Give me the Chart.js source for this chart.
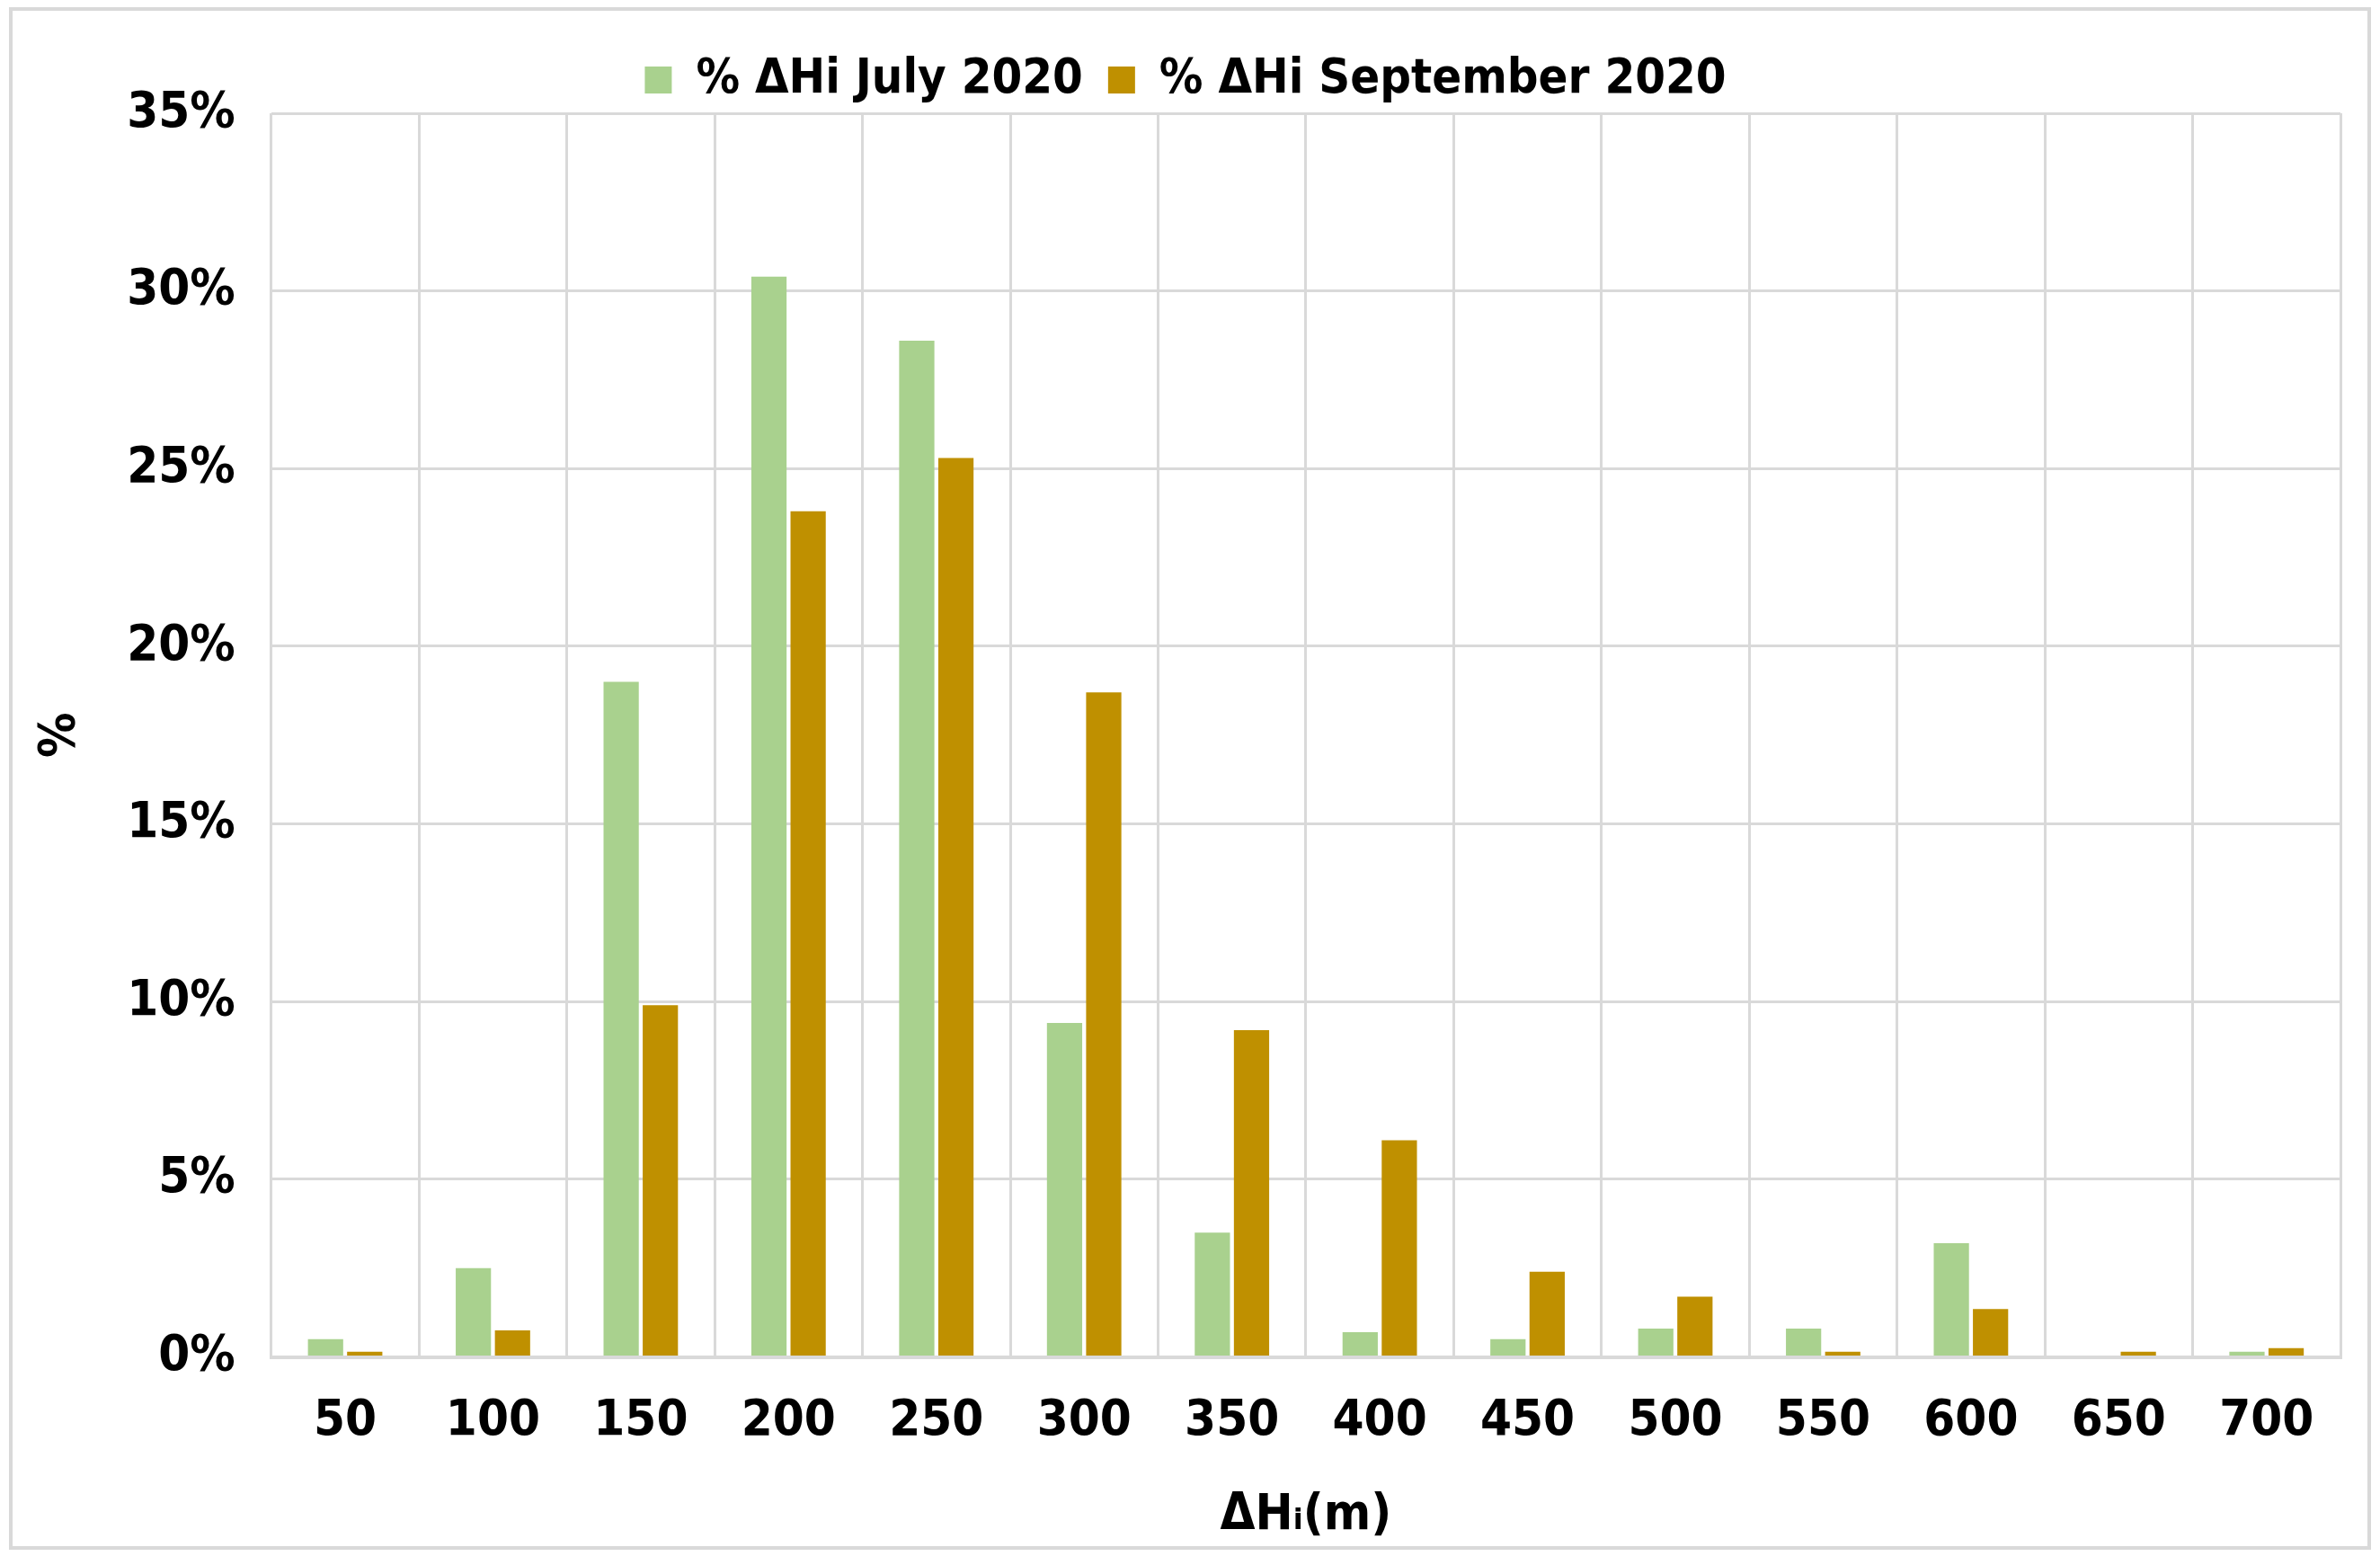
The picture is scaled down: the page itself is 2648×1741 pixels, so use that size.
<!DOCTYPE html>
<html>
<head>
<script src="https://cdn.jsdelivr.net/npm/chart.js@4/dist/chart.umd.min.js"></script>
<style>
body { margin: 0; background: #fff; }
#wrap { position: absolute; left: 10px; top: 8px; width: 2628px; height: 1716px; border: 4px solid #d9d9d9; box-sizing: border-box; }
</style>
</head>
<body>
<div id="wrap"><canvas id="grafico" width="2620" height="1708"></canvas></div>
<script>
var categorias = ["50", "100", "150", "200", "250", "300", "350", "400", "450", "500", "550", "600", "650", "700"];
var julio = [0.5, 2.5, 19.0, 30.4, 28.6, 9.4, 3.5, 0.7, 0.5, 0.8, 0.8, 3.2, 0, 0.15];
var septiembre = [0.15, 0.75, 9.9, 23.8, 25.3, 18.7, 9.2, 6.1, 2.4, 1.7, 0.15, 1.35, 0.15, 0.25];
var ticksY = [0, 5, 10, 15, 20, 25, 30, 35];

var fuente = "'DejaVu Sans Condensed', 'DejaVu Sans', sans-serif";

var grafico = new Chart(document.querySelector("#grafico"), {
    type: "bar",
    data: {
        labels: categorias,
        datasets: [{
            label: "% \u0394Hi July 2020",
            data: julio,
            backgroundColor: "#a9d18e",
            barPercentage: 0.9,
            categoryPercentage: 0.53
        }, {
            label: "% \u0394Hi September 2020",
            data: septiembre,
            backgroundColor: "#bf9000",
            barPercentage: 0.9,
            categoryPercentage: 0.53
        }]
    },
    options: {
        responsive: false,
        animation: false,
        devicePixelRatio: 1,
        layout: { padding: { left: 20, right: 30, top: 22, bottom: 0 } },
        plugins: {
            legend: {
                position: "top",
                labels: {
                    font: { family: fuente, size: 54, weight: "bold" },
                    color: "#000",
                    boxWidth: 30, boxHeight: 30, padding: 28
                }
            },
            tooltip: { enabled: false }
        },
        scales: {
            x: {
                grid: { color: "#d9d9d9", lineWidth: 3, offset: true, drawTicks: false },
                border: { color: "#d9d9d9", width: 4 },
                ticks: { font: { family: fuente, size: 56, weight: "bold" }, color: "#000", padding: 38 },
                title: { display: true, text: "\u0394H\u1d62(m)", font: { family: fuente, size: 56, weight: "bold" }, color: "#000", padding: 0 }
            },
            y: {
                min: 0, max: 35,
                afterBuildTicks: function (eje) { eje.ticks = ticksY.map(function (v) { return { value: v }; }); },
                grid: { color: "#d9d9d9", lineWidth: 3, drawTicks: false },
                border: { display: false },
                ticks: { font: { family: fuente, size: 56, weight: "bold" }, color: "#000", padding: 40,
                    callback: function (v) { return v + "%"; } },
                title: { display: true, text: "%", font: { family: fuente, size: 56, weight: "bold" }, color: "#000", padding: 0 }
            }
        }
    }
});
</script>
</body>
</html>
